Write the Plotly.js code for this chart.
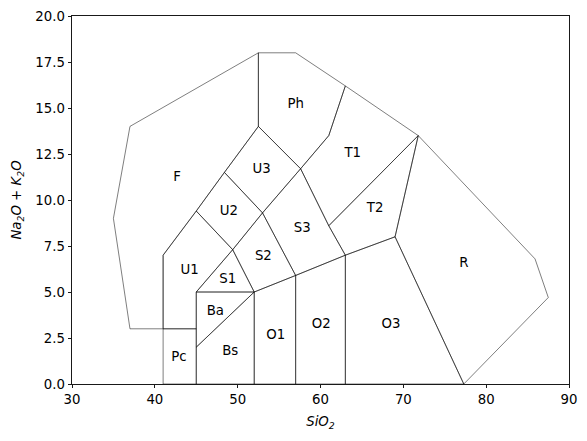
<!DOCTYPE html>
<html>
<head>
<meta charset="utf-8">
<script src="https://cdn.plot.ly/plotly-3.0.1.min.js"></script>
<style>html,body{margin:0;padding:0;background:#fff;}#chart{width:587px;height:441px;}</style>
</head>
<body>
<div id="chart"></div>
<script>
// TAS field names
const fieldNames = ["Pc","Bs","Ba","O1","O2","O3","R","S1","S2","S3","T1","T2","U1","U2","U3","Ph","F"];
// SiO2 vertices of each field
const fieldSiO2 = [
  [41,41,45,45],
  [45,45,52,52],
  [45,45,52],
  [52,52,57,57],
  [57,57,63,63],
  [63,63,69,77.3],
  [77.3,69,71.8,85.9,87.5],
  [45,49.4,52],
  [52,49.4,53,57],
  [57,53,57.6,61,63],
  [57.6,61,63,71.8,61],
  [61,71.8,69,63],
  [41,41,45,49.4,45,45],
  [45,48.4,53,49.4],
  [48.4,52.5,57.6,53],
  [52.5,52.5,57,63,61,57.6],
  [35,37,52.5,52.5,48.4,45,41,41,37]
];
// Na2O+K2O vertices of each field
const fieldAlk = [
  [0,3,3,0],
  [0,2,5,0],
  [2,5,5],
  [0,5,5.9,0],
  [0,5.9,7,0],
  [0,7,8,0],
  [0,8,13.5,6.8,4.7],
  [5,7.3,5],
  [5,7.3,9.3,5.9],
  [5.9,9.3,11.7,8.6,7],
  [11.7,13.5,16.2,13.5,8.6],
  [8.6,13.5,8,7],
  [3,7,9.4,7.3,5,3],
  [9.4,11.5,9.3,7.3],
  [11.5,14,11.7,9.3],
  [14,18,18,16.2,13.5,11.7],
  [9,14,18,14,11.5,9.4,7,3,3]
];
// label positions
const labelX = [42.9,49.1,47.3,54.6,60.1,68.5,77.3,48.8,53.1,57.8,63.9,66.6,44.2,48.95,52.9,57.0,42.7];
const labelY = [1.45,1.78,3.93,2.63,3.2,3.23,6.53,5.69,6.9,8.42,12.5,9.55,6.15,9.35,11.65,15.2,11.2];

const xTicks = [30,40,50,60,70,80,90];
const yTicks = [0,2.5,5,7.5,10,12.5,15,17.5,20];

const FS = 13.3;
const traces = [];
for (let i = 0; i < fieldNames.length; i++) {
  const xs = fieldSiO2[i].concat([fieldSiO2[i][0]]);
  const ys = fieldAlk[i].concat([fieldAlk[i][0]]);
  traces.push({
    x: xs, y: ys, type: 'scatter', mode: 'lines',
    line: {color: 'rgba(0,0,0,0.85)', width: 0.6},
    hoverinfo: 'skip', showlegend: false
  });
}
traces.push({
  x: labelX, y: labelY, text: fieldNames, type: 'scatter', mode: 'text',
  textfont: {family: 'DejaVu Sans', size: FS, color: '#000'},
  textposition: 'middle center', showlegend: false, hoverinfo: 'skip'
});

const axisCommon = {
  showgrid: false, zeroline: false, showline: true, mirror: true,
  linecolor: '#000', linewidth: 0.9,
  ticks: 'outside', ticklen: 3.5, tickwidth: 0.9, tickcolor: '#000',
  tickfont: {family: 'DejaVu Sans', size: FS, color: '#000'}
};

const layout = {
  width: 587, height: 441,
  margin: {l: 72, r: 18, t: 16, b: 57, pad: 0},
  paper_bgcolor: '#fff', plot_bgcolor: '#fff',
  xaxis: Object.assign({}, axisCommon, {
    range: [30, 90], tickvals: xTicks, ticktext: xTicks.map(String),
    title: {text: '<i>SiO<sub>2</sub></i>', font: {family: 'DejaVu Sans', size: FS, color: '#000'}, standoff: 10}
  }),
  yaxis: Object.assign({}, axisCommon, {
    range: [0, 20], tickvals: yTicks, ticktext: yTicks.map(v => v.toFixed(1)),
    title: {text: '<i>Na<sub>2</sub>O</i> + <i>K<sub>2</sub>O</i>', font: {family: 'DejaVu Sans', size: FS, color: '#000'}, standoff: 10}
  })
};

Plotly.newPlot('chart', traces, layout, {staticPlot: true, displayModeBar: false});
</script>
</body>
</html>
